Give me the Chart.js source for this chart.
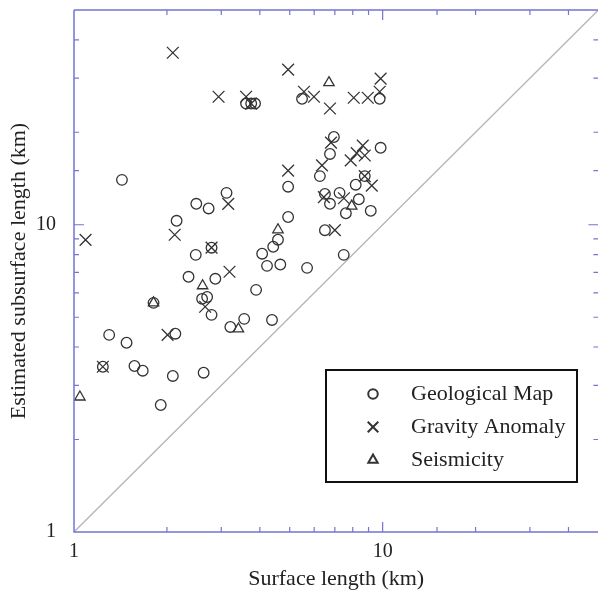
<!DOCTYPE html>
<html>
<head>
<meta charset="utf-8">
<script src="https://cdn.jsdelivr.net/npm/chart.js@4.4.0/dist/chart.umd.min.js"></script>
<style>
html, body { margin: 0; padding: 0; background: #fff; overflow: hidden; }
/* chart.js keeps point-size overflow on the right; the frame's right edge sits at the window edge in the original */
#wrap { width: 598px; height: 592px; overflow: hidden; }
</style>
</head>
<body>
<div id="wrap"><canvas id="chart_canvas" width="608" height="592"></canvas></div>
<script>
// surface length (x) vs estimated subsurface length (y), km
const geo_x = [1.43, 2.49, 2.73, 3.12, 2.15, 4.94, 4.94, 2.48, 2.35, 2.87, 2.79, 3.89, 4.07, 4.42, 4.58, 4.22, 4.66, 5.69, 7.48, 6.5,
	7.6, 9.15, 6.75, 7.25, 6.5, 8.37, 8.18, 8.75, 6.26, 6.75, 6.95, 9.85, 5.48, 9.78, 3.61, 3.75, 3.86, 1.81, 2.6, 2.7,
	2.79, 3.21, 3.56, 4.38, 1.3, 1.48, 2.13, 1.24, 1.57, 1.67, 2.09, 2.63, 1.91];
const geo_y = [14.0, 11.7, 11.3, 12.7, 10.3, 13.3, 10.6, 7.98, 6.77, 6.67, 8.42, 6.14, 8.05, 8.48, 8.94, 7.35, 7.42, 7.24, 7.98, 9.6,
	10.9, 11.1, 11.7, 12.7, 12.6, 12.1, 13.5, 14.4, 14.4, 17.0, 19.3, 17.8, 25.7, 25.7, 24.8, 24.8, 24.8, 5.57, 5.74, 5.82,
	5.09, 4.65, 4.94, 4.9, 4.38, 4.13, 4.42, 3.45, 3.47, 3.35, 3.22, 3.3, 2.59];

const grav_x = [2.09, 2.94, 3.61, 4.94, 5.56, 5.99, 6.75, 8.06, 8.95, 9.78, 9.85, 3.75, 4.94, 3.16, 2.12, 1.09, 2.79, 3.19, 2.66, 2.01,
	1.24, 6.8, 8.62, 8.24, 8.75, 7.88, 6.36, 8.75, 9.22, 6.45, 7.49, 7.0];
const grav_y = [36.3, 26.1, 26.1, 32.0, 27.1, 26.1, 23.9, 25.9, 25.9, 27.1, 29.9, 24.8, 15.0, 11.7, 9.28, 8.93, 8.42, 7.03, 5.41, 4.38,
	3.45, 18.5, 18.1, 17.1, 16.8, 16.2, 15.6, 14.4, 13.4, 12.3, 12.2, 9.6];

const seis_x = [6.7, 4.58, 2.61, 1.81, 3.41, 7.94, 1.045];
const seis_y = [29.0, 9.63, 6.33, 5.57, 4.58, 11.5, 2.75];

const one_to_one = [1, 50];
const axis_min = 1;
const axis_max = 50;
const tick_labels = [1, 10];

const series_labels = ['Geological Map', 'Gravity Anomaly', 'Seismicity'];

const ink = '#333333';
const axis_blue = '#7474d4';
const serif = "'Liberation Serif', 'Times New Roman', serif";

function toPoints(xs, ys) {
	return xs.map((x, i) => ({ x: x, y: ys[i] }));
}

function markerSet(label, xs, ys, style, radius) {
	return {
		type: 'scatter',
		label: label,
		data: toPoints(xs, ys),
		pointStyle: style,
		pointRadius: radius,
		pointHoverRadius: radius,
		pointBorderWidth: 1.3,
		borderColor: ink,
		backgroundColor: 'rgba(0,0,0,0)',
		clip: false,
		order: 1,
		inLegend: true
	};
}

// no label overhang padding, the plot box is fixed by layout padding
function noPad(s) {
	s.paddingLeft = 0;
	s.paddingRight = 0;
	s.paddingTop = 0;
	s.paddingBottom = 0;
}

// inward ticks + frame in blue
const frame_plugin = {
	id: 'frame',
	afterDatasetsDraw(chart) {
		const ctx = chart.ctx;
		const a = chart.chartArea;
		const sx = chart.scales.x, sy = chart.scales.y;
		ctx.save();
		ctx.strokeStyle = axis_blue;
		ctx.lineWidth = 1.5;
		ctx.beginPath();
		ctx.moveTo(a.left, a.top);
		ctx.lineTo(a.right, a.top);
		ctx.moveTo(a.left, a.top);
		ctx.lineTo(a.left, a.bottom);
		ctx.lineTo(a.right, a.bottom);
		ctx.stroke();

		ctx.lineWidth = 1.2;
		ctx.beginPath();
		sx.ticks.forEach(t => {
			if (t.value <= axis_min || t.value >= axis_max) return;
			const len = Number.isInteger(Math.log10(t.value)) ? 10 : 5;
			const px = sx.getPixelForValue(t.value);
			ctx.moveTo(px, a.bottom);
			ctx.lineTo(px, a.bottom - len);
			ctx.moveTo(px, a.top);
			ctx.lineTo(px, a.top + len);
		});
		sy.ticks.forEach(t => {
			if (t.value <= axis_min || t.value >= axis_max) return;
			const len = Number.isInteger(Math.log10(t.value)) ? 10 : 5;
			const py = sy.getPixelForValue(t.value);
			ctx.moveTo(a.left, py);
			ctx.lineTo(a.left + len, py);
			ctx.moveTo(a.right, py);
			ctx.lineTo(a.right - len, py);
		});
		ctx.stroke();
		ctx.restore();
	}
};

const legend_plugin = {
	id: 'boxLegend',
	afterDraw(chart) {
		const ctx = chart.ctx;
		const a = chart.chartArea;
		const left = a.left + 252, top = a.top + 360, w = 251, h = 112;
		ctx.save();
		ctx.fillStyle = '#fff';
		ctx.fillRect(left, top, w, h);
		ctx.strokeStyle = '#111';
		ctx.lineWidth = 2;
		ctx.strokeRect(left, top, w, h);

		const sets = chart.data.datasets.filter(d => d.inLegend);
		sets.forEach((d, i) => {
			const cy = top + 24 + i * 33;
			ctx.strokeStyle = ink;
			ctx.fillStyle = 'rgba(0,0,0,0)';
			Chart.helpers.drawPoint(ctx, {
				pointStyle: d.pointStyle,
				radius: d.pointRadius * 0.9,
				rotation: 0,
				borderWidth: 1.3
			}, left + 47, cy);
			ctx.fillStyle = '#222';
			ctx.font = '22px ' + serif;
			ctx.textBaseline = 'middle';
			ctx.textAlign = 'left';
			ctx.fillText(d.label, left + 85, cy);
		});
		ctx.restore();
	}
};

const ctx = document.getElementById('chart_canvas').getContext('2d');

const chart = new Chart(ctx, {
	type: 'scatter',
	data: {
		datasets: [
			{
				type: 'line',
				label: 'y = x',
				data: toPoints(one_to_one, one_to_one),
				borderColor: '#b4b4b4',
				borderWidth: 1.3,
				pointRadius: 0,
				fill: false,
				order: 5
			},
			markerSet(series_labels[0], geo_x, geo_y, 'circle', 5.3),
			markerSet(series_labels[1], grav_x, grav_y, 'crossRot', 8.3),
			markerSet(series_labels[2], seis_x, seis_y, 'triangle', 6)
		]
	},
	options: {
		responsive: false,
		animation: false,
		events: [],
		layout: { padding: { top: 10, right: 0, bottom: 0, left: 0 } },
		plugins: {
			legend: { display: false },
			tooltip: { enabled: false }
		},
		scales: {
			x: {
				type: 'logarithmic',
				min: axis_min,
				max: axis_max,
				grid: { display: false },
				border: { display: false },
				ticks: {
					autoSkip: false,
					maxRotation: 0,
					padding: 0,
					color: '#222',
					font: { family: serif, size: 20 },
					callback: v => tick_labels.includes(v) ? String(v) : ''
				},
				title: {
					display: true,
					text: 'Surface length (km)',
					color: '#222',
					font: { family: serif, size: 22 },
					padding: { top: 0, bottom: 0 }
				},
				afterFit: s => { s.height = 60; noPad(s); }
			},
			y: {
				type: 'logarithmic',
				min: axis_min,
				max: axis_max,
				grid: { display: false },
				border: { display: false },
				ticks: {
					autoSkip: false,
					padding: 10,
					color: '#222',
					font: { family: serif, size: 20 },
					callback: v => tick_labels.includes(v) ? String(v) : ''
				},
				title: {
					display: true,
					text: 'Estimated subsurface length (km)',
					color: '#222',
					font: { family: serif, size: 22 },
					padding: { top: 6, bottom: 0 }
				},
				afterFit: s => { s.width = 74; noPad(s); }
			}
		}
	},
	plugins: [frame_plugin, legend_plugin]
});
</script>
</body>
</html>
